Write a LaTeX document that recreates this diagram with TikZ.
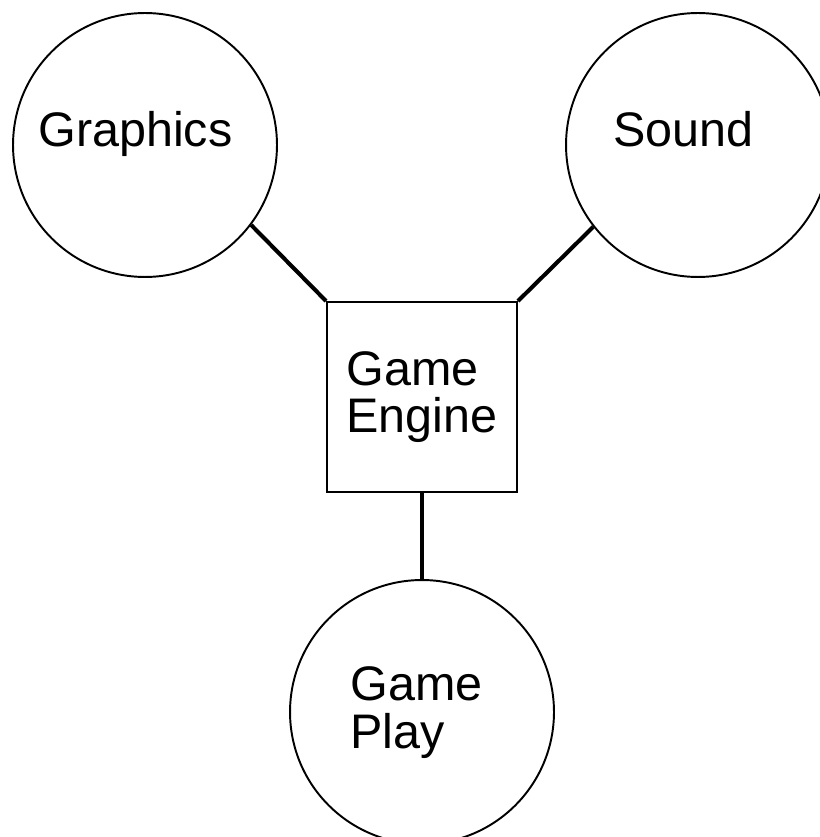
\documentclass[tikz,border=0pt]{standalone}
\usepackage{fontspec}
\setmainfont{Liberation Sans}
\usetikzlibrary{positioning}

\begin{document}
\begin{tikzpicture} [x=0.02cm, y=-0.02cm, font=\fontsize{27.6}{27.2}\selectfont]
    % styles for the parts of the game
    \tikzstyle{part} = [draw=black, circle, line width=1.1pt, minimum size=5.28cm, inner sep=0pt, align=left]
    \tikzstyle{core} = [draw=black, rectangle, line width=1.1pt, minimum size=3.8cm, inner sep=0pt, align=left]
    \tikzstyle{caption} = [inner sep=0pt, anchor=base west]
    \tikzstyle{link} = [draw=black, line width=2.3pt]

    \useasboundingbox (0, 0) rectangle (819, 837);

    % the engine in the middle
    \node (Engine) [core] at (422, 397) {Game\\Engine};

    % the three parts round it
    \node (Graphics) [part] at (145, 145) {};
    \node (Sound) [part] at (698, 145) {};
    \node (Play) [part] at (422, 712) {};

    % names of the parts, set a little off centre
    \node (GraphicsText) [caption] at (38, 147) {Graphics};
    \node (SoundText) [caption] at (613, 147) {Sound};
    \node (PlayText) [caption, align=left, anchor=north west] at (350, 666) {Game\\Play};

    % links from the engine
    \draw [link] (Engine.north west) -- (Graphics.-37);
    \draw [link] (Engine.north east) -- (Sound.-142);
    \draw [link] (Engine.south) -- (Play.north);
\end{tikzpicture}
\end{document}
